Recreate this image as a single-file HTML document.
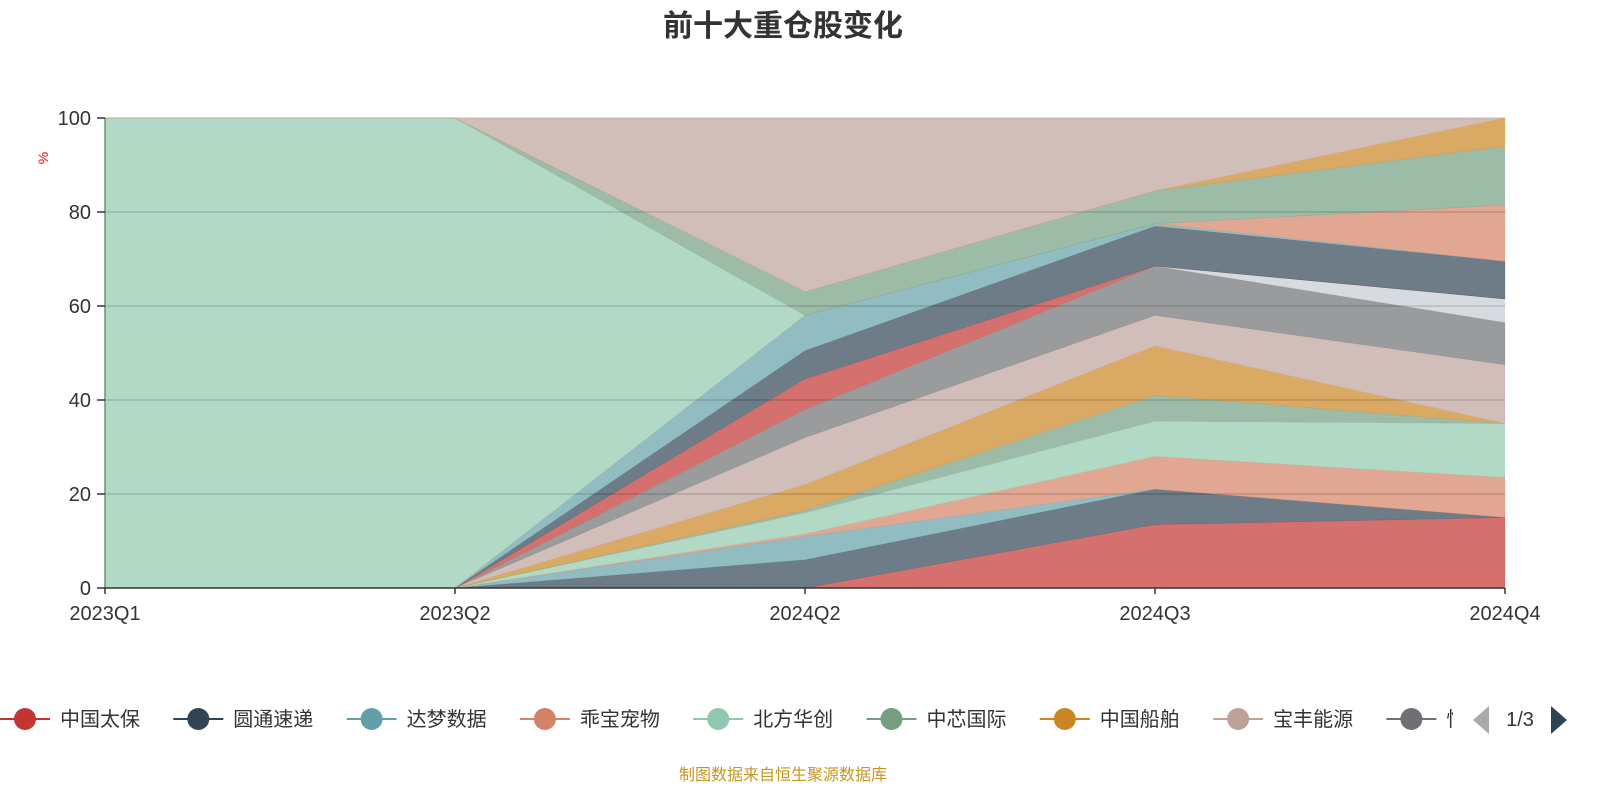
<!DOCTYPE html>
<html><head><meta charset="utf-8"><style>
body{margin:0;background:#fff;width:1600px;height:800px;overflow:hidden;font-family:"Liberation Sans","Noto Sans CJK SC",sans-serif}
svg text{font-family:"Liberation Sans","Noto Sans CJK SC",sans-serif}
</style></head><body>
<svg id="chart" width="1600" height="800">
<text x="783" y="36" text-anchor="middle" font-size="30" font-weight="bold" fill="#333">前十大重仓股变化</text>
<g id="grid"></g><g id="areas"></g><g id="axes"></g><g id="legend"></g>
<text x="783" y="780" text-anchor="middle" font-size="16" fill="#c8961e">制图数据来自恒生聚源数据库</text>
</svg>
<script>
const categories=["2023Q1","2023Q2","2024Q2","2024Q3","2024Q4"];
const seriesNames=["中国太保","圆通速递","达梦数据","乖宝宠物","北方华创","中芯国际","中国船舶","宝丰能源","恒立液压","持仓10","持仓11","持仓12","持仓13","持仓14","持仓15","持仓16","持仓17","持仓18"];
const seriesColors=["#c23531","#2f4554","#61a0a8","#d48265","#91c7ae","#749f83","#ca8622","#bda29a","#6e7074","#c4ccd3","#c23531","#2f4554","#61a0a8","#d48265","#91c7ae","#749f83","#ca8622","#bda29a"];
const s1=[0,0,0,13.5,15];
const s2=[0,0,6,7.5,0];
const s3=[0,0,5,0,0];
const s4=[0,0,0.5,7,8.5];
const s5=[0,0,4.5,7.5,11.5];
const s6=[0,0,0.5,5.5,0];
const s7=[0,0,5.5,10.5,0];
const s8=[0,0,10,6.5,12.5];
const s9=[0,0,6,10.5,9];
const s10=[0,0,0,0,5];
const s11=[0,0,6.5,0,0];
const s12=[0,0,6,8.5,8];
const s13=[0,0,7.5,0.5,0];
const s14=[0,0,0,0,12];
const s15=[100,100,0,0,0];
const s16=[0,0,5,7,12.5];
const s17=[0,0,0,0,6];
const s18=[0,0,37,15.5,0];
const seriesValues=[s1,s2,s3,s4,s5,s6,s7,s8,s9,s10,s11,s12,s13,s14,s15,s16,s17,s18];
const yTicks=[0,20,40,60,80,100];
const legendNames=["中国太保","圆通速递","达梦数据","乖宝宠物","北方华创","中芯国际","中国船舶","宝丰能源","恒"];

const NS="http://www.w3.org/2000/svg";
const X0=105,X1=1505,Y0=588,Y1=118;
const xs=i=>X0+(X1-X0)*i/(categories.length-1);
const ys=v=>Y0-(Y0-Y1)*v/100;
function mk(t,a,p){const e=document.createElementNS(NS,t);for(const k in a)e.setAttribute(k,a[k]);p.appendChild(e);return e;}
const grid=document.getElementById('grid'),areas=document.getElementById('areas'),axes=document.getElementById('axes'),leg=document.getElementById('legend');
yTicks.forEach(v=>{
  if(v>0){const l=mk('line',{x1:X0,x2:X1,y1:ys(v),y2:ys(v),stroke:'#ccc','stroke-width':1},grid);
  
  }
});
let base=categories.map(()=>0);
seriesValues.forEach((vals,si)=>{
  const top=vals.map((v,i)=>base[i]+v);
  let d='M'+top.map((v,i)=>xs(i)+','+ys(v)).join(' L');
  for(let i=categories.length-1;i>=0;i--)d+=' L'+xs(i)+','+ys(base[i]);
  d+='Z';
  const p=mk('path',{d:d,fill:seriesColors[si],'fill-opacity':0.7,stroke:seriesColors[si],'stroke-opacity':0.3,'stroke-width':0.5},areas);
  
  
  base=top;
});
yTicks.forEach(v=>{
  if(v>0&&v<100){const l=mk('line',{x1:X0,x2:X1,y1:ys(v),y2:ys(v),stroke:'#000','stroke-opacity':0.1,'stroke-width':1.5},axes);
  
  }
});
const ya=mk('line',{x1:X0,x2:X0,y1:Y1,y2:Y0,stroke:'#6a8f78','stroke-width':1.5},axes);


yTicks.forEach(v=>{
  const t=mk('line',{x1:X0-8,x2:X0,y1:ys(v),y2:ys(v),stroke:'#333','stroke-width':1.5},axes);
  
  
  const tx=mk('text',{x:X0-14,y:ys(v)+7,'text-anchor':'end','font-size':20,fill:'#333'},axes);
  tx.textContent=v;
  
  
});
const xa=mk('line',{x1:X0,x2:X1,y1:Y0,y2:Y0,stroke:'#333','stroke-width':1.5},axes);


categories.forEach((c,i)=>{
  const t=mk('line',{x1:xs(i),x2:xs(i),y1:Y0,y2:Y0+6,stroke:'#333','stroke-width':1.5},axes);
  
  
  const tx=mk('text',{x:xs(i),y:Y0+32,'text-anchor':'middle','font-size':20,fill:'#333'},axes);
  tx.textContent=c;
  
  
});
const u=mk('text',{x:48,y:158,'text-anchor':'middle','font-size':14,fill:'#f00',transform:'rotate(-90 48 158)'},axes);
u.textContent='%';


legendNames.forEach((n,i)=>{
  const cx=25+i*173.3;
  const g=mk('g',{},leg);
  
  
  mk('line',{x1:cx-25,x2:cx+25,y1:719,y2:719,stroke:seriesColors[i],'stroke-width':2},g);
  mk('circle',{cx:cx,cy:719,r:11,fill:seriesColors[i]},g);
  const t=mk('text',{x:cx+35,y:726,'font-size':20,fill:'#333'},g);
  t.textContent=n;
});
const wm=mk('rect',{x:1453,y:700,width:18,height:40,fill:'#fff'},leg);


const pv=mk('path',{d:'M1489,706 L1473,720 L1489,734Z',fill:'#aaa'},leg);


const pt=mk('text',{x:1520,y:726,'text-anchor':'middle','font-size':20,fill:'#333'},leg);
pt.textContent='1/3';


const nx=mk('path',{d:'M1551,706 L1567,720 L1551,734Z',fill:'#2f4554'},leg);


</script>
</body></html>
